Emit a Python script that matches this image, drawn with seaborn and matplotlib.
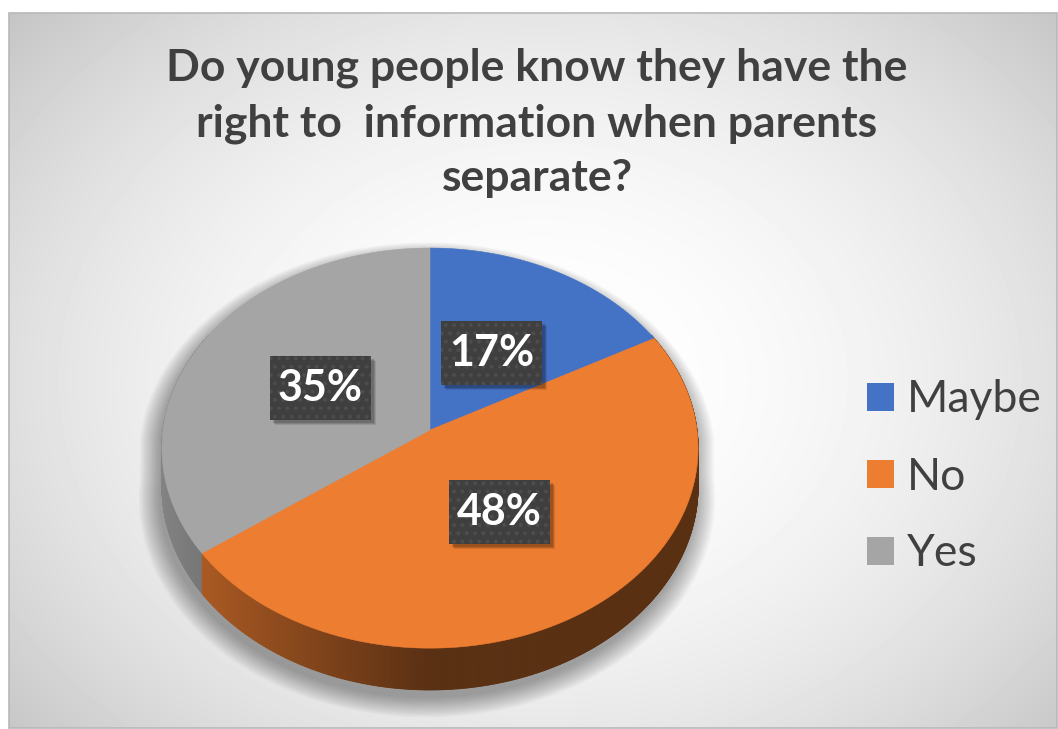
import numpy as np
import matplotlib
matplotlib.use("Agg")
import matplotlib.pyplot as plt
from matplotlib.patches import Patch, Rectangle
from matplotlib.collections import PolyCollection
import seaborn as sns

# --- data -------------------------------------------------------------
categories = ["Maybe", "No", "Yes"]
shares = [17, 48, 35]                      # percent
colors = ["#4472C4", "#ED7D31", "#A5A5A5"]
title = "Do young people know they have the\nright to  information when parents\nseparate?"

# --- canvas -----------------------------------------------------------
W, H = 1058, 729
sns.set_theme(style="white")
plt.rcParams["font.family"] = ["Lato", "DejaVu Sans"]
plt.rcParams["hatch.linewidth"] = 1.6

fig = plt.figure(figsize=(W / 100, H / 100), dpi=100)
fig.patch.set_facecolor("white")
ax = fig.add_axes([0, 0, 1, 1])

# chart area with a soft radial gradient
fx0, fy0, fx1, fy1 = 9, 13, 1057, 728
yy, xx = np.mgrid[fy0:fy1, fx0:fx1]
d2 = ((xx - 540) / 620.0) ** 2 + ((yy - 380) / 480.0) ** 2
bg = np.clip(1 - 0.175 * d2, 0, 1)
ax.imshow(bg, cmap="gray", vmin=0, vmax=1, extent=(fx0, fx1, fy1, fy0),
          zorder=0, interpolation="bilinear")
ax.add_patch(Rectangle((fx0, fy0), fx1 - fx0, fy1 - fy0, fill=False,
                       edgecolor="#b8b8b8", linewidth=1.2, zorder=1))
ax.set_xlim(0, W)
ax.set_ylim(H, 0)
ax.set_aspect("auto")

# --- 3D pie geometry ---------------------------------------------------
CX, CY, R = 430, 430, 267
TILT = np.deg2rad(48)
DIST = 7.4
DEPTH = 38


def project(theta, r=1.0, drop=0.0):
    u = r * np.cos(theta)
    v = r * np.sin(theta)
    f = DIST / (DIST + v * np.cos(TILT))
    return CX + R * u * f, CY - R * v * np.sin(TILT) * f + drop * f


vals = np.asarray(shares, dtype=float)
cum = np.concatenate([[0], np.cumsum(vals) / vals.sum()])
starts = np.pi / 2 - 2 * np.pi * cum[:-1]
ends = np.pi / 2 - 2 * np.pi * cum[1:]


def slice_index(theta):
    frac = ((np.pi / 2 - theta) % (2 * np.pi)) / (2 * np.pi)
    return np.clip(np.searchsorted(cum, frac, side="right") - 1, 0, len(vals) - 1)


# soft shadow underneath
sil_t = np.linspace(0, 2 * np.pi, 400)
sx, sy = project(sil_t, drop=0)
bx, by = project(sil_t, drop=DEPTH)
lower = np.sin(sil_t) < 0
px = np.where(lower, bx, sx)
py = np.where(lower, by, sy)
for k in range(16):
    e = 1 + 0.005 * k
    ax.fill(CX - 3 + (px - CX) * e, CY + 8 + (py - CY) * e,
            color="black", alpha=0.025, linewidth=0, zorder=2)

# side wall, drawn back to front
n = 900
t = np.linspace(np.deg2rad(150), np.deg2rad(390), n + 1)
quads, qcols, depth_key = [], [], []
for a, b in zip(t[:-1], t[1:]):
    m = 0.5 * (a + b)
    x1, y1 = project(a)
    x2, y2 = project(b)
    x3, y3 = project(b, drop=DEPTH)
    x4, y4 = project(a, drop=DEPTH)
    quads.append([(x1, y1), (x2, y2), (x3, y3), (x4, y4)])
    base = np.array(matplotlib.colors.to_rgb(colors[slice_index(m)]))
    shade = 0.38 + 0.42 * max(0.0, -np.cos(m))
    qcols.append(np.clip(base * shade, 0, 1))
    depth_key.append(np.sin(m))
order = np.argsort(-np.asarray(depth_key))
side = PolyCollection([quads[i] for i in order],
                      facecolors=[qcols[i] for i in order],
                      edgecolors=[qcols[i] for i in order],
                      linewidths=0.6, zorder=3)
ax.add_collection(side)

# top face
handles = []
for i, (s, e) in enumerate(zip(starts, ends)):
    arc = np.linspace(s, e, 240)
    ax_, ay_ = project(arc)
    polx = np.concatenate([[CX], ax_])
    poly_y = np.concatenate([[CY], ay_])
    ax.fill(polx, poly_y, color=colors[i], linewidth=0.4,
            edgecolor=colors[i], zorder=4)
    handles.append(Patch(facecolor=colors[i], edgecolor="none",
                         label=categories[i]))

# data labels: text first, then a dotted dark box and a drop shadow sized to it
labels = []
for i, (s, e) in enumerate(zip(starts, ends)):
    mid = 0.5 * (s + e)
    lx, ly = project(mid, r=0.47)
    labels.append(ax.text(lx, ly, f"{shares[i]}%", ha="center", va="center",
                          fontsize=31, fontweight="bold", color="white",
                          zorder=8))

fig.canvas.draw()
renderer = fig.canvas.get_renderer()
inv = ax.transData.inverted()
PAD_X, PAD_Y = 8, 16
for lab in labels:
    bb = lab.get_window_extent(renderer)
    (x0, y0), (x1, y1) = inv.transform([(bb.x0, bb.y0), (bb.x1, bb.y1)])
    left, right = min(x0, x1) - PAD_X, max(x0, x1) + PAD_X
    top, bottom = min(y0, y1) - PAD_Y + 4, max(y0, y1) + PAD_Y - 4
    for k, a in enumerate([0.10, 0.12, 0.16]):
        off = 5 - k
        ax.add_patch(Rectangle((left + off, top + off), right - left,
                               bottom - top, facecolor="black", alpha=a,
                               edgecolor="none", zorder=6))
    ax.add_patch(Rectangle((left, top), right - left, bottom - top,
                           facecolor="#3f3f3f", edgecolor="#4d4d4d",
                           linewidth=0, hatch="..", zorder=7))

# title
ax.text(537, 123, title, ha="center", va="center", fontsize=32,
        fontweight="bold", color="#404040", linespacing=1.45, zorder=6)

# legend
leg = ax.legend(handles=handles, loc="center left",
                bbox_to_anchor=(867 / W, 1 - 477 / H), frameon=False,
                fontsize=32, handlelength=0.6, handleheight=0.6,
                handletextpad=0.3, labelspacing=0.81, borderpad=0,
                borderaxespad=0)
for txt in leg.get_texts():
    txt.set_color("#404040")

ax.set_xlim(0, W)
ax.set_ylim(H, 0)
ax.axis("off")
fig.savefig("out.png", dpi=100, facecolor="white")
